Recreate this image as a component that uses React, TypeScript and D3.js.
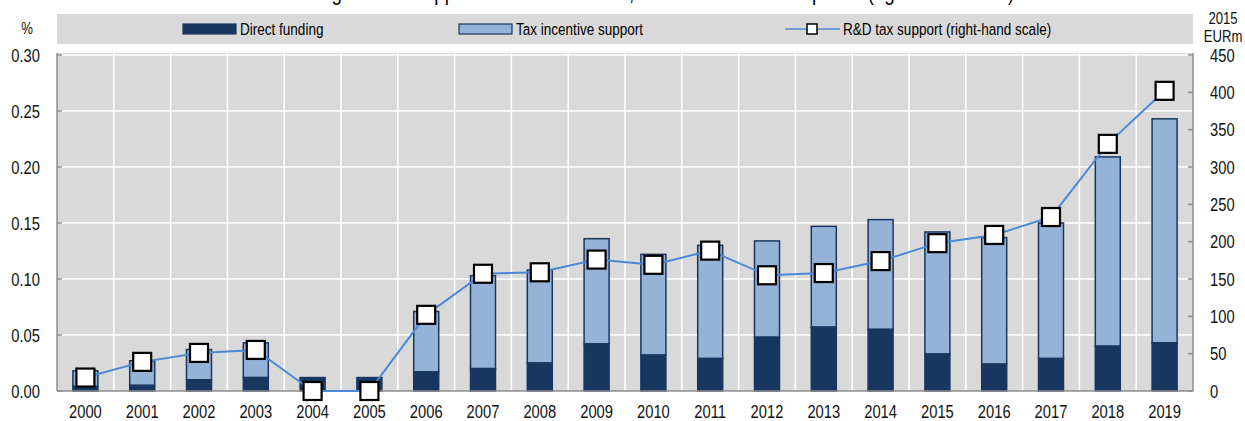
import React, { useRef, useEffect } from "react";
import * as d3 from "d3";

const years = ["2000", "2001", "2002", "2003", "2004", "2005", "2006", "2007", "2008", "2009", "2010", "2011", "2012", "2013", "2014", "2015", "2016", "2017", "2018", "2019"];
// % of GDP
const directFunding = [0.004, 0.005, 0.01, 0.012, 0.012, 0.012, 0.017, 0.02, 0.025, 0.042, 0.032, 0.029, 0.048, 0.057, 0.055, 0.033, 0.024, 0.029, 0.04, 0.043];
const taxIncentive = [0.014, 0.022, 0.027, 0.031, 0, 0, 0.054, 0.083, 0.083, 0.094, 0.09, 0.101, 0.086, 0.09, 0.098, 0.109, 0.113, 0.121, 0.169, 0.2];
// 2015 EURm (right-hand scale)
const taxSupportEur = [18, 39, 51, 55, 0, 0, 102, 157, 159, 176, 169, 188, 155, 158, 174, 198, 209, 233, 331, 402];
const leftTicks = [0, 0.05, 0.1, 0.15, 0.2, 0.25, 0.3];
const rightTicks = [0, 50, 100, 150, 200, 250, 300, 350, 400, 450];

const FONT = "'Liberation Sans', Arial, sans-serif";
const DARK = "#183760";
const LIGHT = "#95b3d7";
const LINE = "#4a8ad8";
const BG = "#d9d9d9";
const NARROW = 0.82; // fake "Arial Narrow"

type Sel = d3.Selection<any, unknown, null, undefined>;

// narrow text helper
const ntext = (g: Sel, x: number, y: number, s: string, size: number, anchor = "start") =>
  g
    .append("text")
    .attr("transform", `translate(${x},${y}) scale(${NARROW},1)`)
    .attr("text-anchor", anchor)
    .attr("font-size", size)
    .text(s);

const App = () => {
  const svgRef = useRef<SVGSVGElement>(null);

  useEffect(() => {
    const svg = d3.select(svgRef.current);
    svg.selectAll("*").remove();
    svg.attr("font-family", FONT).attr("fill", "#111");
    const plot = { left: 57, right: 1193, top: 53, bottom: 391 };

    const x = d3
      .scaleBand()
      .domain(years)
      .range([plot.left, plot.right])
      .paddingInner(0.56)
      .paddingOuter(0.28);
    const step = x.step();

    const yL = d3.scaleLinear().domain([0, 0.3]).range([391, 55]);
    const yR = d3.scaleLinear().domain([0, 450]).range([391, 55]);

    // title (cut off at the top edge)
    ntext(svg as Sel, 620, 0, "Direct funding and tax support for business R&D, % of GDP and 2015 prices (right-hand scale)", 23, "middle").attr("fill", "#000");

    // legend band
    svg.append("rect").attr("x", 57).attr("y", 14).attr("width", 1136).attr("height", 30).attr("fill", BG);
    const lg = svg.append("g").attr("fill", "#000") as Sel;
    lg.append("rect").attr("x", 183).attr("y", 24).attr("width", 53).attr("height", 10).attr("fill", DARK).attr("stroke", DARK).attr("stroke-width", 1.2);
    ntext(lg, 240, 35, "Direct funding", 16.5);
    lg.append("rect").attr("x", 459).attr("y", 24).attr("width", 53).attr("height", 10).attr("fill", LIGHT).attr("stroke", DARK).attr("stroke-width", 1.2);
    ntext(lg, 516, 35, "Tax incentive support", 16.5);
    lg.append("line").attr("x1", 785).attr("x2", 840).attr("y1", 29).attr("y2", 29).attr("stroke", LINE).attr("stroke-width", 1.5);
    lg.append("rect").attr("x", 807).attr("y", 24).attr("width", 10).attr("height", 10).attr("fill", "#fff").attr("stroke", "#000").attr("stroke-width", 1.5);
    ntext(lg, 843, 35, "R&D tax support (right-hand scale)", 16.5);

    // plot background
    svg
      .append("rect")
      .attr("x", plot.left)
      .attr("y", plot.top)
      .attr("width", plot.right - plot.left)
      .attr("height", plot.bottom - plot.top)
      .attr("fill", BG);

    // grid
    svg
      .append("g")
      .selectAll("line")
      .data(leftTicks.slice(1))
      .enter()
      .append("line")
      .attr("x1", plot.left)
      .attr("x2", plot.right)
      .attr("y1", (d) => yL(d))
      .attr("y2", (d) => yL(d))
      .attr("stroke", "#fff")
      .attr("stroke-width", 1.5);
    svg
      .append("g")
      .selectAll("line")
      .data(years.slice(1))
      .enter()
      .append("line")
      .attr("x1", (d) => (x(d) as number) - (step - x.bandwidth()) / 2)
      .attr("x2", (d) => (x(d) as number) - (step - x.bandwidth()) / 2)
      .attr("y1", plot.top)
      .attr("y2", plot.bottom)
      .attr("stroke", "#fff")
      .attr("stroke-width", 1.5);

    // bars
    const bars = svg.append("g");
    years.forEach((yr, i) => {
      const bx = x(yr) as number;
      const d0 = directFunding[i];
      const t0 = taxIncentive[i];
      if (t0 > 0) {
        bars
          .append("rect")
          .attr("x", bx)
          .attr("y", yL(d0 + t0))
          .attr("width", x.bandwidth())
          .attr("height", yL(d0) - yL(d0 + t0))
          .attr("fill", LIGHT)
          .attr("stroke", DARK)
          .attr("stroke-width", 1.5);
      }
      bars
        .append("rect")
        .attr("x", bx)
        .attr("y", yL(d0))
        .attr("width", x.bandwidth())
        .attr("height", yL(0) - yL(d0))
        .attr("fill", DARK)
        .attr("stroke", DARK)
        .attr("stroke-width", 1.5);
    });

    // axes
    const axisColor = "#8c8c8c";
    svg.append("line").attr("x1", plot.left).attr("x2", plot.right).attr("y1", plot.bottom).attr("y2", plot.bottom).attr("stroke", axisColor).attr("stroke-width", 1.5);
    svg.append("line").attr("x1", plot.left).attr("x2", plot.left).attr("y1", plot.top).attr("y2", plot.bottom).attr("stroke", axisColor).attr("stroke-width", 1.5);
    svg.append("line").attr("x1", plot.right).attr("x2", plot.right).attr("y1", plot.top).attr("y2", plot.bottom).attr("stroke", axisColor).attr("stroke-width", 1.5);

    const left = svg.append("g") as Sel;
    leftTicks.forEach((t) => {
      left.append("line").attr("x1", plot.left).attr("x2", plot.left + 5).attr("y1", yL(t)).attr("y2", yL(t)).attr("stroke", axisColor).attr("stroke-width", 1.5);
      ntext(left, 40, yL(t) + 6.5, d3.format(".2f")(t), 18, "end");
    });
    ntext(left, 27, 34, "%", 16, "middle");

    const right = svg.append("g") as Sel;
    rightTicks.forEach((t) => {
      right.append("line").attr("x1", plot.right - 5).attr("x2", plot.right).attr("y1", yR(t)).attr("y2", yR(t)).attr("stroke", axisColor).attr("stroke-width", 1.5);
      ntext(right, 1210, yR(t) + 6.5, String(t), 18);
    });
    ntext(right, 1223, 24, "2015", 16, "middle");
    ntext(right, 1223, 42, "EURm", 16, "middle");

    const bottom = svg.append("g") as Sel;
    years.forEach((yr) => {
      ntext(bottom, (x(yr) as number) + x.bandwidth() / 2, 418, yr, 18, "middle");
    });

    // line + markers
    const line = d3
      .line<number>()
      .x((_, i) => (x(years[i]) as number) + x.bandwidth() / 2)
      .y((d) => yR(d));
    svg.append("path").datum(taxSupportEur).attr("d", line).attr("fill", "none").attr("stroke", LINE).attr("stroke-width", 2);
    svg
      .append("g")
      .selectAll("rect")
      .data(taxSupportEur)
      .enter()
      .append("rect")
      .attr("x", (_, i) => (x(years[i]) as number) + x.bandwidth() / 2 - 9)
      .attr("y", (d) => yR(d) - 9)
      .attr("width", 18)
      .attr("height", 18)
      .attr("fill", "#fff")
      .attr("stroke", "#000")
      .attr("stroke-width", 2.2);
  }, []);

  return (
    <div>
      <style>{`body{margin:0}`}</style>
      <svg ref={svgRef} width={1245} height={421} style={{ display: "block" }} />
    </div>
  );
};

export default App;
